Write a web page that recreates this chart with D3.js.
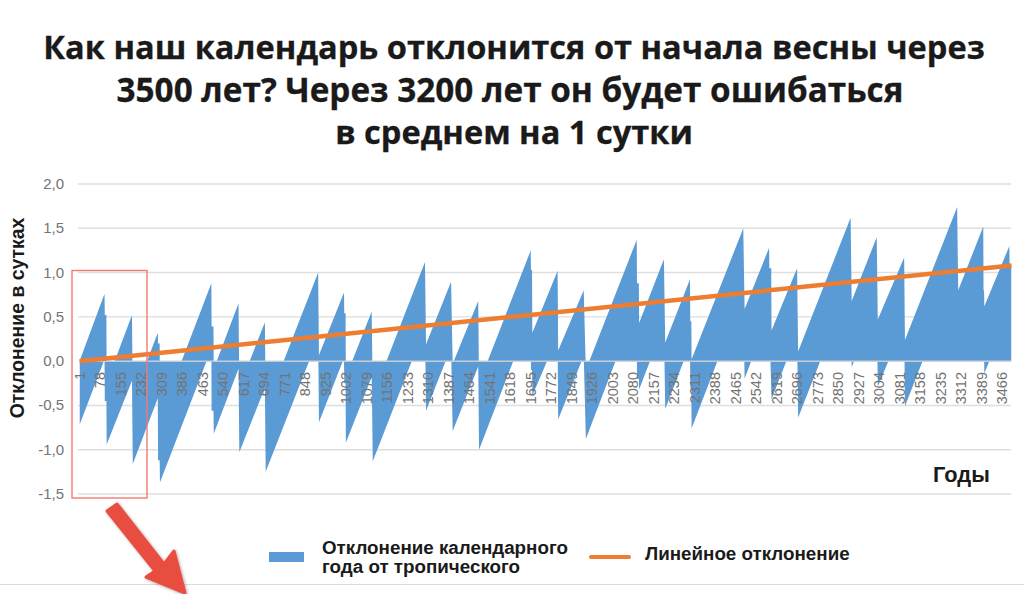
<!DOCTYPE html>
<html>
<head>
<meta charset="utf-8">
<script src="https://cdn.jsdelivr.net/npm/d3@7"></script>
<style>
  html, body { margin: 0; padding: 0; background: #fff; }
  svg { display: block; }
  text { font-family: "Liberation Sans", Arial, sans-serif; }
  .title { font-family: "Open Sans", sans-serif; font-weight: 700; font-size: 32.6px; fill: #1a1a1a; stroke: #1a1a1a; stroke-width: 0.3px; text-anchor: middle; }
  .tick-label { font-size: 14.5px; fill: #737373; }
  .bold-label { font-weight: 700; fill: #1a1a1a; }
</style>
</head>
<body>
<svg id="chart" width="1024" height="594"></svg>
<script>
var titleLines = [
  'Как наш календарь отклонится от начала весны через',
  '3500 лет? Через 3200 лет он будет ошибаться',
  'в среднем на 1 сутки'
];
var yTicks = [2, 1.5, 1, 0.5, 0, -0.5, -1, -1.5];
var yearTicks = [1, 78, 155, 232, 309, 386, 463, 540, 617, 694, 771, 848, 925, 1002, 1079, 1156,
  1233, 1310, 1387, 1464, 1541, 1618, 1695, 1772, 1849, 1926, 2003, 2080, 2157, 2234, 2311, 2388,
  2465, 2542, 2619, 2696, 2773, 2850, 2927, 3004, 3081, 3158, 3235, 3312, 3389, 3466];

// one tooth of the saw per row: where it starts, where it peaks, upper and lower edge of the bars
var toothStart = [1, 103, 201, 303, 505, 601, 700, 900, 1001, 1102, 1302, 1402, 1501, 1701, 1798, 1902, 2102, 2200, 2299, 2498, 2599, 2699, 2900, 2998, 3100, 3300, 3398];
var toothPeak = [95, 198, 295, 496, 598, 697, 897, 994, 1098, 1298, 1396, 1498, 1695, 1796, 1894, 2093, 2195, 2293, 2493, 2590, 2695, 2896, 2994, 3097, 3296, 3394, 3492];
var upperStart = [0, -0.24, -0.42, -0.64, -0.09, -0.3, -0.52, 0.07, -0.18, -0.4, 0.19, -0.03, -0.25, 0.32, 0.12, -0.1, 0.43, 0.21, 0.02, 0.59, 0.345, 0.11, 0.68, 0.47, 0.24, 0.8, 0.62];
var upperPeak = [0.76, 0.52, 0.32, 0.88, 0.655, 0.44, 1, 0.775, 0.56, 1.12, 0.895, 0.68, 1.25, 1.02, 0.8, 1.37, 1.15, 0.925, 1.5, 1.28, 1.05, 1.62, 1.4, 1.17, 1.74, 1.52, 1.3];
var lowerStart = [-0.72, -0.94, -1.16, -1.37, -0.82, -1.03, -1.25, -0.69, -0.92, -1.13, -0.56, -0.79, -1, -0.39, -0.66, -0.88, -0.32, -0.54, -0.76, -0.2, -0.43, -0.64, -0.07, -0.29, -0.51, 0.06, -0.14];
var lowerPeak = [0.02, -0.22, -0.42, 0.14, -0.085, -0.3, 0.26, 0.035, -0.18, 0.38, 0.155, -0.06, 0.51, 0.28, 0.06, 0.63, 0.41, 0.185, 0.76, 0.54, 0.31, 0.88, 0.66, 0.43, 1, 0.78, 0.56];
// short step right after some peaks
var stepTop = [0.52, null, 0.2, 0.39, null, null, null, 0.54, null, null, null, null, 1.03, null, null, 0.88, null, 0.45, null, 1.05, null, null, null, null, null, 0.8, 1.08];
var stepBottom = [-0.45, null, -1.12, -0.56, null, null, null, -0.25, null, null, null, null, -0.1, null, null, -0.2, null, -0.3, null, null, null, null, null, null, null, null, null];

var trendYears = [1, 3500];
var trendValues = [0, 1.08];

var seriesName = ['Отклонение календарного', 'года от тропического'];
var trendName = 'Линейное отклонение';

var svg = d3.select('#chart');
var x = d3.scaleLinear().domain([1, 3500]).range([79.5, 1011.5]);
var y = d3.scaleLinear().domain([-1.5, 2]).range([494, 184]);

// flatten the teeth to edge points
var upperPoints = [], lowerPoints = [];
toothStart.forEach(function(start, i) {
  var end = i < toothStart.length - 1 ? toothStart[i + 1] - 1 : 3500;
  upperPoints.push([start, upperStart[i]], [toothPeak[i], upperPeak[i]]);
  lowerPoints.push([start, lowerStart[i]], [toothPeak[i], lowerPeak[i]]);
  if (stepTop[i] !== null) {
    upperPoints.push([toothPeak[i] + 1, stepTop[i]], [end, stepTop[i]]);
  }
  if (stepBottom[i] !== null) {
    lowerPoints.push([toothPeak[i] + 1, stepBottom[i]], [end, stepBottom[i]]);
  }
});

// bars grow from zero, so the upper edge only counts above the axis and the lower one below it
var defs = svg.append('defs');
defs.append('clipPath').attr('id', 'above').append('rect')
  .attr('x', x(1)).attr('y', 0).attr('width', x(3500) - x(1)).attr('height', y(0));
defs.append('clipPath').attr('id', 'below').append('rect')
  .attr('x', x(1)).attr('y', y(0)).attr('width', x(3500) - x(1)).attr('height', 594 - y(0));
var shadow = defs.append('filter').attr('id', 'arrow-shadow');
shadow.append('feDropShadow').attr('dx', 1).attr('dy', 1).attr('stdDeviation', 1.5).attr('flood-opacity', 0.35);

// title, the second line runs a little wider in the original
svg.selectAll('.title').data(titleLines).enter().append('text')
  .attr('class', 'title')
  .attr('x', function(d, i) { return [514, 510, 514][i]; })
  .attr('y', function(d, i) { return [59, 102, 144][i]; })
  .style('font-size', function(d, i) { return i === 1 ? '33.3px' : null; })
  .text(function(d) { return d; });

// grid
svg.selectAll('.grid').data(yTicks.filter(function(d) { return d !== 0; })).enter().append('line')
  .attr('class', 'grid')
  .attr('x1', 78).attr('x2', 1011)
  .attr('y1', function(d) { return y(d); })
  .attr('y2', function(d) { return y(d); })
  .attr('stroke', '#dedede').attr('stroke-width', 1.4);

svg.selectAll('.y-label').data(yTicks).enter().append('text')
  .attr('class', 'tick-label y-label')
  .attr('x', 64)
  .attr('y', function(d) { return y(d) + 5; })
  .attr('text-anchor', 'end')
  .style('font-size', '15px')
  .text(function(d) { return d3.format('.1f')(d).replace('.', ',').replace('−', '-'); });

// bars
var area = d3.area()
  .x(function(d) { return x(d[0]); })
  .y0(y(0))
  .y1(function(d) { return y(d[1]); });
svg.append('path').attr('d', area(upperPoints)).attr('fill', '#5B9BD5').attr('clip-path', 'url(#above)');
svg.append('path').attr('d', area(lowerPoints)).attr('fill', '#5B9BD5').attr('clip-path', 'url(#below)');

// zero axis
svg.append('line')
  .attr('x1', x(1)).attr('x2', x(3500))
  .attr('y1', y(0)).attr('y2', y(0))
  .attr('stroke', '#cfcfcf').attr('stroke-width', 1.4);

// year labels sit on top of the bars
svg.selectAll('.x-label').data(yearTicks).enter().append('text')
  .attr('class', 'tick-label x-label')
  .attr('transform', function(d) { return 'translate(' + (x(d) + 5) + ',372) rotate(-90)'; })
  .attr('text-anchor', 'end')
  .text(function(d) { return d; });

// trend
var trendLine = d3.line()
  .x(function(d) { return x(d); })
  .y(function(d, i) { return y(trendValues[i]); });
svg.append('path').attr('d', trendLine(trendYears))
  .attr('fill', 'none').attr('stroke', '#ED7D31').attr('stroke-width', 4.5);

// axis titles
svg.append('text').attr('class', 'bold-label')
  .attr('transform', 'translate(24,318) rotate(-90)')
  .attr('text-anchor', 'middle')
  .style('font-size', '19.4px')
  .text('Отклонение в сутках');
svg.append('text').attr('class', 'bold-label')
  .attr('x', 933).attr('y', 482)
  .style('font-size', '21.8px')
  .text('Годы');

// legend
svg.append('rect').attr('x', 269).attr('y', 552).attr('width', 35).attr('height', 10).attr('fill', '#5B9BD5');
svg.selectAll('.legend-text').data(seriesName).enter().append('text')
  .attr('class', 'bold-label legend-text')
  .attr('x', 322)
  .attr('y', function(d, i) { return 554 + i * 19; })
  .style('font-size', '18.8px')
  .text(function(d) { return d; });
svg.append('line').attr('x1', 591).attr('x2', 629).attr('y1', 557).attr('y2', 557)
  .attr('stroke', '#ED7D31').attr('stroke-width', 4).attr('stroke-linecap', 'round');
svg.append('text').attr('class', 'bold-label')
  .attr('x', 645).attr('y', 560)
  .style('font-size', '18.8px')
  .text(trendName);

// page rule at the bottom
svg.append('line').attr('x1', 0).attr('x2', 1024).attr('y1', 584.5).attr('y2', 584.5)
  .attr('stroke', '#dcdcdc').attr('stroke-width', 1.2);

// annotation box and arrow
svg.append('rect').attr('x', 72).attr('y', 270.5).attr('width', 75).attr('height', 227.5)
  .attr('fill', 'none').attr('stroke', '#f27a72').attr('stroke-width', 1.4);
svg.append('path')
  .attr('d', 'M107,511 L117,504 L164,564 L174,551 L185,593 L146,577 L155,571 Z')
  .attr('fill', '#e94d41')
  .attr('stroke', '#e94d41').attr('stroke-width', 3).attr('stroke-linejoin', 'round')
  .attr('filter', 'url(#arrow-shadow)');
</script>
</body>
</html>
